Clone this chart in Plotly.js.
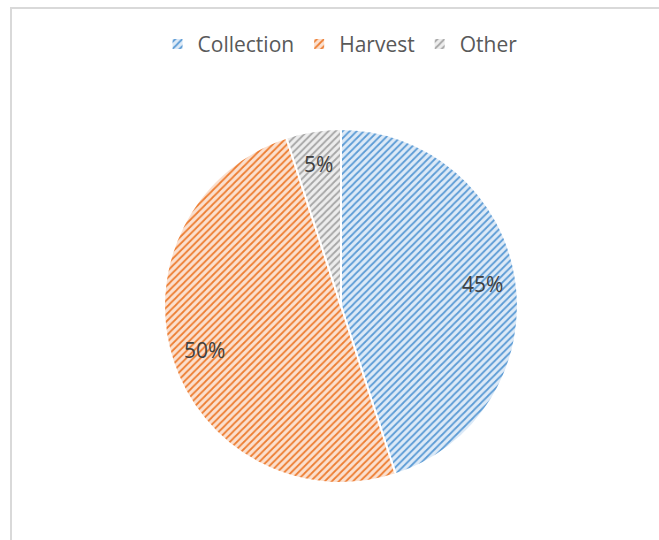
<!DOCTYPE html>
<html><head><meta charset="utf-8">
<script src="https://cdn.plot.ly/plotly-3.0.1.min.js"></script>
<style>
html,body{margin:0;padding:0;background:#fff;}
#wrap{position:relative;width:659px;height:540px;overflow:hidden;}
#frame{position:absolute;left:10px;top:7px;width:700px;height:600px;border-left:2px solid #d9d9d9;border-top:2px solid #d9d9d9;pointer-events:none;}
#chart{position:absolute;left:0;top:0;width:659px;height:540px;}
</style></head>
<body><div id="wrap"><div id="chart"></div><div id="frame"></div></div>
<script>
const categories = ["Collection", "Harvest", "Other"];
const values = [45, 50, 5];
const colors = ["#5B9BD5", "#ED7D31", "#A5A5A5"];
const lightColors = ["#DDEAF7", "#FBE0CF", "#EDEDED"];

const W = 659, H = 540;
const dom = {x: [0.2489, 0.786], y: [0.1056, 0.761]};
const radiusPx = 177;
const labelRadius = 0.81;

const trace = {
  type: "pie",
  labels: categories,
  values: values,
  sort: false,
  direction: "clockwise",
  rotation: 0,
  textinfo: "none",
  hoverinfo: "label+percent",
  marker: {
    colors: colors,
    line: {color: "#ffffff", width: 2},
    pattern: {shape: "/", fgcolor: colors, bgcolor: lightColors, size: 5, solidity: 0.35}
  },
  domain: dom
};

// percentage labels placed at each slice's mid-angle (derived from the data)
const total = values.reduce((a, b) => a + b, 0);
const cx = (dom.x[0] + dom.x[1]) / 2, cy = (dom.y[0] + dom.y[1]) / 2;
let cum = 0;
const annotations = values.map(v => {
  const mid = (cum + v / 2) / total * 2 * Math.PI;
  cum += v;
  const r = radiusPx * labelRadius;
  return {
    xref: "paper", yref: "paper",
    x: cx + r * Math.sin(mid) / W,
    y: cy + r * Math.cos(mid) / H,
    xanchor: "center", yanchor: "middle",
    text: Math.round(v / total * 100) + "%",
    showarrow: false,
    font: {family: "Open Sans, sans-serif", size: 21, color: "#404040"}
  };
});

const layout = {
  width: W, height: H,
  margin: {l: 0, r: 0, t: 0, b: 0},
  paper_bgcolor: "rgba(0,0,0,0)",
  showlegend: true,
  annotations: annotations,
  legend: {
    orientation: "h", x: 0.516, xanchor: "center", y: 0.918, yanchor: "middle",
    font: {family: "Open Sans, sans-serif", size: 21, color: "#595959"},
    itemwidth: 30, traceorder: "normal"
  }
};
Plotly.newPlot("chart", [trace], layout, {displayModeBar: false, staticPlot: true});
</script></body></html>
